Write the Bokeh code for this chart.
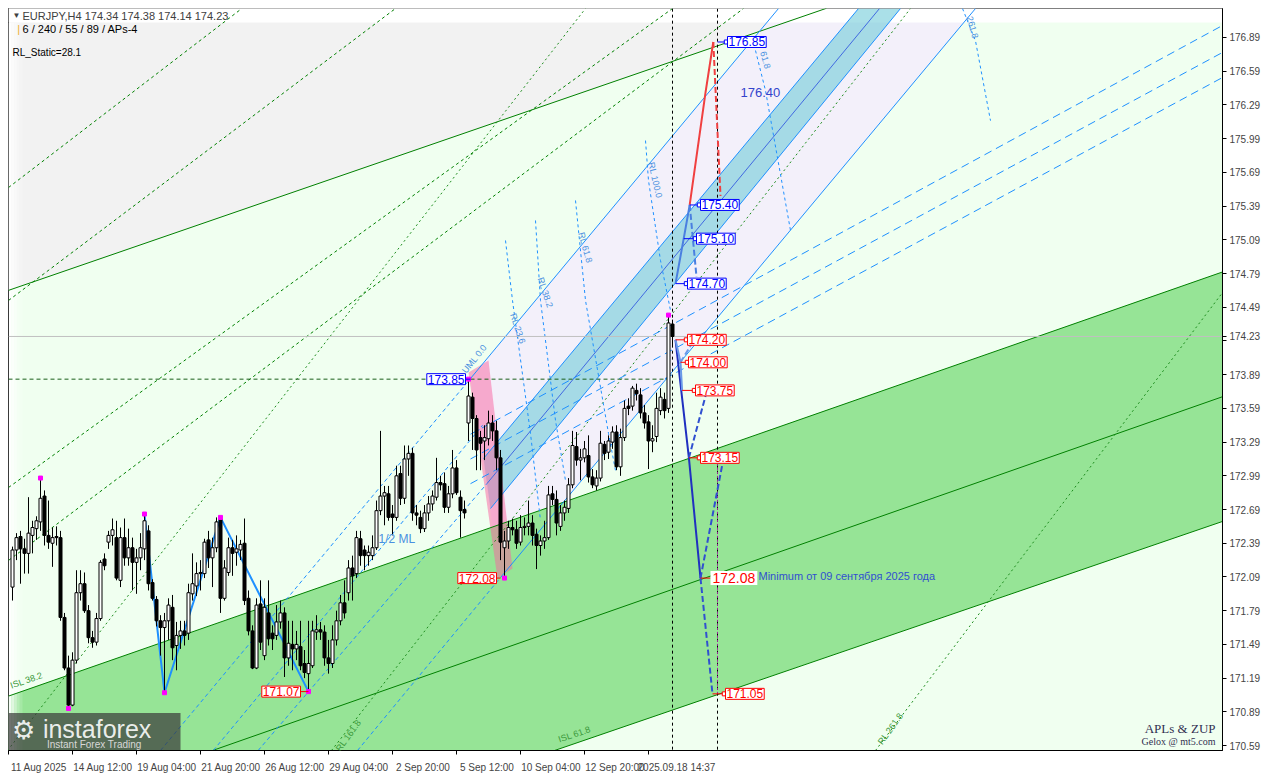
from bokeh.plotting import figure
from bokeh.models import Range1d, FixedTicker, PrintfTickFormatter, Label, ColumnDataSource, LinearAxis
from bokeh.embed import file_html
from bokeh.resources import INLINE

# ---------------- data: EURJPY H4 candles ----------------
opens = [172.00,172.33,172.45,172.34,172.30,172.46,172.52,172.58,172.81,172.46,
         172.39,172.45,172.44,171.73,171.28,170.95,171.35,171.95,172.03,171.79,
         171.55,171.51,171.72,172.25,172.40,172.46,172.44,172.06,172.44,172.26,
         172.35,172.22,172.26,172.34,172.50,172.04,171.89,171.70,171.64,171.70,
         171.82,171.48,171.57,171.61,171.59,171.94,172.01,172.12,172.12,172.42,
         172.26,172.35,172.61,171.90,172.13,172.35,172.31,172.33,172.39,171.90,
         171.61,171.28,171.85,171.39,171.77,171.59,171.57,171.69,171.77,171.37,
         171.49,171.45,171.47,171.32,171.23,171.30,171.60,171.62,171.60,171.37,
         171.32,171.53,171.70,171.86,171.95,172.17,172.12,172.43,172.33,172.28,
         172.28,172.35,172.68,172.81,172.83,172.65,172.62,173.01,172.79,173.14,
         173.19,172.66,172.62,172.52,172.66,172.74,172.80,172.93,172.92,172.71,
         172.83,173.06,172.80,172.69,173.46,173.69,173.50,173.33,173.30,173.32,
         173.46,173.39,173.15,172.35,172.41,172.53,172.51,172.40,172.53,172.54,
         172.57,172.47,172.37,172.41,172.44,172.83,172.78,172.54,172.66,172.70,
         172.91,173.25,173.13,173.15,173.17,172.98,172.90,172.97,173.27,173.20,
         173.29,173.38,173.07,173.33,173.61,173.61,173.75,173.71,173.55,173.47,
         173.30,173.34,173.57,173.67,173.59,174.34]
highs = [172.36,172.48,172.50,172.43,172.80,172.59,172.63,172.97,172.86,172.77,
         172.53,172.54,172.50,171.77,171.39,171.42,172.15,172.15,172.13,171.84,
         171.61,171.77,172.24,172.30,172.50,172.61,172.59,172.53,172.61,172.52,
         172.44,172.34,172.48,172.65,172.55,172.07,171.92,171.75,171.77,171.90,
         171.93,171.69,171.70,171.70,172.03,172.30,172.22,172.24,172.43,172.50,
         172.44,172.62,172.62,172.24,172.44,172.42,172.46,172.42,172.61,171.97,
         171.66,171.90,172.06,171.90,172.06,171.66,171.84,171.88,171.82,171.70,
         171.70,171.61,171.70,171.44,171.70,171.70,171.75,171.69,171.66,171.53,
         171.66,171.79,171.93,172.06,172.24,172.28,172.50,172.50,172.37,172.37,
         172.46,172.77,173.39,172.90,172.90,172.73,173.08,173.08,173.26,173.26,
         173.24,172.73,172.68,172.73,172.81,172.86,173.15,172.99,173.02,172.90,
         173.22,173.13,172.86,172.77,173.85,173.73,173.53,173.39,173.44,173.57,
         173.53,173.48,173.22,172.50,172.59,172.61,172.59,172.64,172.62,172.77,
         172.64,172.52,172.46,172.59,172.90,172.90,172.86,172.73,172.77,172.97,
         173.39,173.38,173.23,173.30,173.35,173.05,173.04,173.39,173.30,173.35,
         173.43,173.44,173.41,173.66,173.68,173.79,173.81,173.77,173.62,173.53,
         173.44,173.73,173.77,173.73,174.42,174.38]
lows = [171.88,172.24,172.03,172.12,172.12,172.30,172.42,172.50,172.37,172.34,
        172.18,172.37,171.70,171.26,170.92,170.94,171.32,171.88,171.77,171.50,
        171.46,171.48,171.70,172.15,172.34,172.37,172.06,172.00,172.19,172.19,
        171.97,171.94,172.15,172.24,171.97,171.88,171.65,171.39,171.06,171.53,
        171.35,171.26,171.45,171.48,171.53,171.88,171.92,171.97,172.08,172.17,
        172.00,172.31,171.77,171.88,172.10,172.10,172.19,172.24,171.84,171.57,
        171.27,171.27,171.44,171.35,171.48,171.44,171.53,171.63,171.20,171.30,
        171.26,171.35,171.26,171.19,171.07,171.28,171.53,171.53,171.30,171.23,
        171.28,171.48,171.66,171.72,171.88,171.88,172.08,172.19,172.15,172.19,
        172.24,172.33,172.64,172.55,172.59,172.46,172.59,172.73,172.74,172.99,
        172.59,172.55,172.48,172.49,172.59,172.68,172.77,172.86,172.66,172.66,
        172.79,172.82,172.44,172.61,173.30,173.22,173.04,173.04,173.13,173.26,
        173.30,173.04,172.24,172.08,172.34,172.46,172.34,172.37,172.46,172.46,
        172.37,172.16,172.28,172.34,172.42,172.73,172.46,172.50,172.59,172.66,
        172.88,173.08,172.95,173.11,172.93,172.88,172.86,172.94,173.13,173.14,
        173.23,173.04,172.99,173.30,173.53,173.57,173.66,173.50,173.41,173.05,
        173.20,173.29,173.53,173.50,173.55,174.14]
closes = [172.33,172.44,172.34,172.30,172.48,172.53,172.59,172.79,172.46,172.40,
          172.44,172.44,171.73,171.28,170.95,171.35,171.95,172.03,171.79,171.55,
          171.51,171.72,172.22,172.19,172.46,172.51,172.08,172.44,172.26,172.35,
          172.22,172.26,172.35,172.59,172.03,171.90,171.70,171.64,171.70,171.84,
          171.46,171.57,171.61,171.57,171.95,172.03,172.12,172.13,172.40,172.26,
          172.35,172.58,171.90,172.17,172.35,172.30,172.34,172.38,171.88,171.61,
          171.28,171.84,171.51,171.82,171.54,171.54,171.69,171.77,171.37,171.50,
          171.45,171.49,171.30,171.24,171.32,171.61,171.62,171.60,171.37,171.32,
          171.53,171.70,171.86,171.77,172.17,172.10,172.44,172.28,172.28,172.31,
          172.35,172.68,172.81,172.84,172.62,172.62,172.99,172.79,173.14,173.19,
          172.66,172.64,172.52,172.66,172.74,172.81,172.93,172.91,172.71,172.83,
          173.06,172.84,172.68,172.66,173.70,173.50,173.22,173.28,173.33,173.46,
          173.39,173.15,172.40,172.41,172.53,172.51,172.39,172.53,172.54,172.57,
          172.46,172.37,172.41,172.44,172.82,172.78,172.57,172.66,172.71,172.91,
          173.26,173.13,173.15,173.23,172.98,172.91,172.97,173.28,173.19,173.30,
          173.38,173.07,173.33,173.59,173.59,173.77,173.72,173.55,173.46,173.30,
          173.32,173.59,173.69,173.57,174.35,174.23]
bars = list(range(len(closes)))

price_ticks = [170.59, 170.89, 171.19, 171.49, 171.79, 172.09, 172.39, 172.69, 172.99,
               173.29, 173.59, 173.89, 174.19, 174.23, 174.49, 174.79, 175.09, 175.39,
               175.69, 175.99, 176.29, 176.59, 176.89]
date_ticks = [-1, 15, 31, 47, 63, 79, 95, 111, 127, 143, 159]
date_labels = ["11 Aug 2025", "14 Aug 12:00", "19 Aug 04:00", "21 Aug 20:00", "26 Aug 12:00",
               "29 Aug 04:00", "2 Sep 20:00", "5 Sep 12:00", "10 Sep 04:00",
               "12 Sep 20:00", "2025.09.18 14:37"]
date_label_pos = [6.6, 22.6, 38.6, 54.6, 70.6, 86.6, 102.6, 118.6, 134.6, 150.6, 166.0]

# channel (bar, price) anchors
chan_k = [-1, 303]
chan_upper = [171.03, 174.81]
chan_mid = [169.91, 173.70]
chan_lower = [168.88, 172.59]

# zigzag pivots
zz_k = [33, 38, 52, 74]
zz_p = [172.65, 171.06, 172.62, 171.07]
piv_k = [7, 14, 33, 38, 52, 74, 114, 123, 164]
piv_p = [172.97, 170.92, 172.65, 171.06, 172.62, 171.07, 173.85, 172.08, 174.42]

FONT = "Liberation Sans"
TOP, BOT = 177.148, 170.546

p = figure(frame_width=1214, frame_height=742, x_range=Range1d(-1, 302.5),
           y_range=Range1d(BOT, TOP), y_axis_location="right",
           output_backend="svg", toolbar_location=None,
           min_border_left=8, min_border_top=8, min_border_right=42, min_border_bottom=10,
           background_fill_color="#F0FFF0", border_fill_color="white",
           outline_line_color="black")
p.grid.visible = False

# ---- backgrounds ----
p.patch([-1, 203.5, 203.5, -1], [174.64, 177.15, 177.2, 177.2], color="#F2F2F2", line_alpha=0)
p.patch([114.5, 191.5, 240.75, 122], [173.856, TOP, TOP, 172.085], color="#F3F0FA", line_alpha=0)
p.patch([chan_k[0], chan_k[1], chan_k[1], chan_k[0]],
        [chan_upper[0], chan_upper[1], chan_lower[1], chan_lower[0]],
        color="#96E496", line_alpha=0)
p.patch([-1, 303, 303, -1], [177.023, 177.023, 177.2, 177.2], color="white", line_alpha=0)
for i, a in enumerate([0.9, 0.7, 0.5, 0.3, 0.15]):
    p.patch([-1 + i * 0.7, -0.3 + i * 0.7, -0.3 + i * 0.7, -1 + i * 0.7],
            [170.5, 170.5, 177.02, 177.02], color="white", alpha=a, line_alpha=0)

# cyan band around the median line
p.patch([117.75, 119.5, 222.0, 211.5], [173.144, 172.699, TOP, TOP],
        color="#72CCD8", alpha=0.6, line_alpha=0)
# pink strip
p.patch([114, 119, 125, 121.25], [173.909, 174.016, 172.166, 172.077],
        color="#FA629F", alpha=0.5, line_alpha=0)

# channel lines
p.line(chan_k, chan_upper, color="#008000", line_width=1)
p.line(chan_k, chan_mid, color="#008000", line_width=1)
p.line(chan_k, chan_lower, color="#008000", line_width=1)
p.line([-1, 203.5], [174.64, 177.15], color="#008000", line_width=1)

# green dashed fan (top-left)
for (k0, p0, k1, p1) in [(-1, 175.555, 57, 177.139), (-1, 174.55, 95.75, TOP),
                         (-1, 172.886, 165, TOP), (-1, 172.237, 182.75, TOP)]:
    p.line([k0, k1], [p0, p1], color="#008000", line_dash="3 3", line_width=1)
# green reaction lines (steep, dotted)
for (k0, p0, k1, p1) in [(-1.25, BOT, 143.25, TOP), (79.75, BOT, 224.5, TOP),
                         (215.75, BOT, 302.5, 174.62)]:
    p.line([k0, k1], [p0, p1], color="#1E8C1E", line_dash="2 3", line_width=1)

# pitchfork lines
p.line([117.75, 211.5], [173.144, TOP], color="#1E90FF", line_width=1)
p.line([119.5, 222.0], [172.699, TOP], color="#1E90FF", line_width=1)
p.line([118.6, 216.75], [172.92, TOP], color="#4169E1", line_width=1)
p.line([61.4, 118.6], [BOT, 172.92], color="#1E90FF", line_width=1, line_dash="4 3")
p.line([114.5, 191.5], [173.856, TOP], color="#1E90FF", line_width=1)
p.line([37.0, 114.5], [BOT, 173.856], color="#1E90FF", line_width=1, line_dash="4 3")
p.line([122, 240.75], [172.085, TOP], color="#1E90FF", line_width=1)
p.line([86.25, 122], [BOT, 172.085], color="#1E90FF", line_width=1, line_dash="4 3")
p.line([50.2, 117.5], [BOT, 173.44], color="#1E90FF", line_width=1, line_dash="4 3")

# right-side long dashed blue lines
for (k0, p0, k1, p1) in [(114.5, 173.36, 302.5, 176.997), (114.5, 173.14, 302.5, 176.757),
                         (114.5, 172.92, 302.5, 176.534)]:
    p.line([k0, k1], [p0, p1], color="#1E90FF", line_dash="8 5", line_width=1)

rl_curves = [([123.25, 125, 129.5, 132], [175.084, 174.55, 173.367, 172.593]),
             ([130.75, 132, 135.75, 138.25], [175.262, 174.55, 173.482, 172.948]),
             ([140.75, 143.25, 149, 150.75], [175.44, 174.55, 173.367, 173.037]),
             ([158.25, 159, 162, 164.5], [175.973, 175.617, 174.906, 174.461]),
             ([185.75, 188.25, 194.5], [176.774, 176.418, 175.173]),
             ([237.5, 240.75, 244.5], [TOP, 176.86, 176.15])]
for xs, ys in rl_curves:
    p.line(xs, ys, color="#1E90FF", line_dash="3 3", line_width=1)

p.line([-1, 302.5], [174.23, 174.23], color="#C0C0C0", line_width=1)
p.line([-1, 164], [173.85, 173.85], color="#1A5E1A", line_dash="4 3", line_width=1)
p.line([165, 165], [170.5, 177.2], color="black", line_dash="3 3", line_width=1)
p.line([176.25, 176.25], [170.5, 177.2], color="black", line_dash="3 3", line_width=1)
p.line([176.25, 176.25], [171.05, 173.15], color="#A020A0", line_dash="2 2", line_width=1)

p.line(zz_k, zz_p, color="#1E90FF", line_width=2)

# ---- candles ----
src = ColumnDataSource(dict(x=bars, o=opens, h=highs, l=lows, c=closes,
                            top=[max(a, b) for a, b in zip(opens, closes)],
                            bot=[min(a, b) for a, b in zip(opens, closes)],
                            fill=["white" if c >= o else "black" for o, c in zip(opens, closes)]))
p.segment("x", "h", "x", "l", source=src, color="black", line_width=1)
p.vbar(x="x", top="top", bottom="bot", width=0.75, source=src,
       fill_color="fill", line_color="black", line_width=1)
p.scatter(piv_k, piv_p, marker="square", size=4, color="#FF00FF")

# ---- forecast paths ----
p.line([169.3, 173.25, 175.2], [175.40, 176.40, 176.85], color="#F04040", line_width=2)
p.line([175.2, 177], [176.85, 175.48], color="#F04040", line_width=2, line_dash="6 3")
p.line([165.75, 167.8, 169.3], [174.70, 175.10, 175.40], color="#4A7FE0", line_width=2)
p.line([169.3, 171], [175.40, 174.76], color="#4A7FE0", line_width=2, line_dash="6 3")
p.line([165.75, 169.1, 172], [174.20, 173.15, 172.08], color="#2030C0", line_width=2)
p.line([165.75, 167, 167.4], [174.20, 174.00, 173.75], color="#6A9AE8", line_width=2)
p.line([167, 170.75], [174.00, 174.22], color="#6A9AE8", line_width=2, line_dash="6 3")
p.line([169.1, 173.25], [173.15, 173.70], color="#3050D0", line_width=2, line_dash="6 3")
p.line([172, 177.4], [172.08, 173.08], color="#3050D0", line_width=2, line_dash="6 3")
p.line([172, 175], [172.08, 171.05], color="#3050D0", line_width=2, line_dash="6 3")

# ---- price boxes ----
boxes_right = [(176.85, 176.25, 178.75, "blue"), (175.40, 169.3, 172, "blue"),
               (175.10, 167.8, 171, "blue"), (174.70, 165.75, 168.75, "blue"),
               (174.20, 165.75, 168.75, "red"), (174.00, 167, 169, "red"),
               (173.75, 167.4, 170.75, "red"), (173.15, 169.1, 172, "red"),
               (171.05, 175, 178.25, "red")]
for pr, k0, k1, col in boxes_right:
    p.line([k0, k1], [pr, pr], color=col, line_width=1)
    p.scatter([k1 - 0.3], [pr], marker="square", size=4, fill_color="white", line_color=col)
    p.add_layout(Label(x=k1, y=pr, text=f"{pr:.2f}", text_font=FONT, text_font_size="12px",
                       text_color=col, text_baseline="middle", border_line_color=col,
                       background_fill_color="white", padding=1))
p.line([172, 174.5], [172.08, 172.08], color="red", line_width=1)
p.add_layout(Label(x=174.5, y=172.08, text="172.08", text_font=FONT, text_font_size="14px",
                   text_color="red", text_baseline="middle", background_fill_color="white",
                   padding=2))
boxes_left = [(173.85, 114.5, 113.25, "blue"), (172.08, 122, 121, "red"), (171.07, 74, 72, "red")]
for pr, k0, k1, col in boxes_left:
    p.line([k1, k0], [pr, pr], color=col, line_width=1)
    p.add_layout(Label(x=k1, y=pr, text=f"{pr:.2f}", text_font=FONT, text_font_size="12px",
                       text_color=col, text_baseline="middle", text_align="right",
                       border_line_color=col, background_fill_color="white", padding=1))

# ---- texts ----
def txt(x, y, s, size="11px", color="black", align="left", angle=0, font=FONT, alpha=1.0):
    p.add_layout(Label(x=x, y=y, text=s, text_font=font, text_font_size=size, text_color=color,
                       text_align=align, text_baseline="middle", angle=angle, text_alpha=alpha))

txt(0, 177.085, "\u25BC", size="8px", color="#404040")
txt(2.5, 177.085, "EURJPY,H4  174.34 174.38 174.14 174.23", size="11px", color="#404040")
txt(1.2, 176.97, "|", size="11px", color="#F0B030")
txt(2.5, 176.97, "6 / 240 / 55 / 89 / APs-4", size="11px", color="black")
txt(0, 176.756, "RL_Static=28.1", size="10px", color="black")
txt(182, 176.40, "176.40", size="13px", color="#3344CC")
txt(186.5, 172.10, "Minimum от 09 сентября 2025 года", size="11px", color="#3050D0")
txt(300.75, 170.742, "APLs & ZUP", size="13px", color="#303050", align="right", font="Liberation Serif")
txt(300.75, 170.627, "Gelox @ mt5.com", size="10px", color="#303050", align="right", font="Liberation Serif")
txt(91.5, 172.43, "1/2 ML", size="12px", color="#4A90E0")
for (x, y, s, a) in [(126.3, 174.30, "RL 23.6", -1.25), (133.2, 174.62, "RL 38.2", -1.25),
                     (143.2, 175.02, "RL 61.8", -1.3), (160.7, 175.62, "RL 100.0", -1.35),
                     (188.2, 176.69, "61.8", -1.3), (240.0, 176.98, "261.8", -1.3)]:
    txt(x, y, s, size="9px", color="#4A90E0", angle=a, align="center")
txt(115.5, 174.03, "UML 0.0", size="9px", color="#4A90E0", angle=0.9, align="center")
for (x, y, s, a) in [(84, 170.68, "RL 161.8", 0.95), (219.5, 170.74, "RL 261.8", 0.95),
                     (140.5, 170.69, "ISL 61.8", 0.33), (3.5, 171.17, "ISL 38.2", 0.33)]:
    txt(x, y, s, size="9px", color="#3C9A3C", angle=a, align="center")

# watermark (inside the frame)
p.patch([-1, 42, 42, -1], [BOT, BOT, 170.88, 170.88], color="#3C3C3C", alpha=0.72, line_alpha=0)
txt(-0.2, 170.725, "\u2699", size="26px", color="white", alpha=0.9)
txt(7.6, 170.735, "instaforex", size="25px", color="white", alpha=0.9)
txt(8.6, 170.595, "Instant Forex Trading", size="10px", color="#D8D8D8")

# ---- axes ----
p.yaxis.ticker = FixedTicker(ticks=price_ticks)
p.yaxis.formatter = PrintfTickFormatter(format="%.2f")
p.yaxis.major_label_overrides = {174.19: ""}
p.yaxis.major_label_text_font = FONT
p.yaxis.major_label_text_font_size = "10px"
p.yaxis.major_tick_out = 4
p.yaxis.major_tick_in = 0
p.yaxis.minor_tick_line_color = None
p.yaxis.major_label_standoff = 3

p.xaxis.ticker = FixedTicker(ticks=date_ticks)
p.xaxis.major_label_overrides = {t: "" for t in date_ticks}
p.xaxis.major_label_text_font_size = "1px"
p.xaxis.major_label_standoff = 0
p.xaxis.major_tick_out = 4
p.xaxis.major_tick_in = 0
p.xaxis.minor_tick_line_color = None
xlab = LinearAxis(ticker=FixedTicker(ticks=date_label_pos),
                  major_label_overrides={t: s for t, s in zip(date_label_pos, date_labels)},
                  axis_line_color=None, major_tick_line_color=None, minor_tick_line_color=None,
                  major_label_standoff=1, major_label_text_font=FONT,
                  major_label_text_font_size="10px")
p.add_layout(xlab, "below")

open("out.html", "w").write(file_html(p, INLINE))
